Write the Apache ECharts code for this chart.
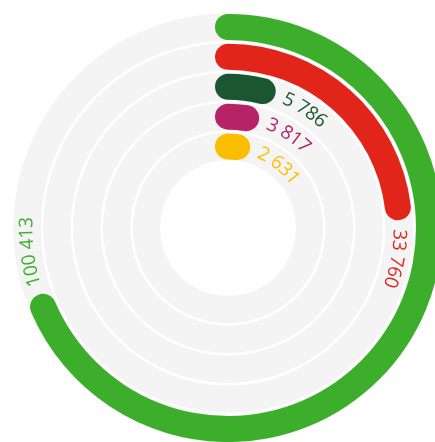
<!DOCTYPE html>
<html>
<head>
<meta charset="utf-8">
<script src="https://cdn.jsdelivr.net/npm/echarts@6/dist/echarts.min.js"></script>
<style>
html,body{margin:0;padding:0;background:#fff;}
#chart{width:435px;height:442px;}
</style>
</head>
<body>
<div id="chart"></div>
<script>
const categories = ['Cat 1', 'Cat 2', 'Cat 3', 'Cat 4', 'Cat 5'];
const values = [100413, 33760, 5786, 3817, 2631];
const colors = ['#3dae2b', '#e1251b', '#1b5632', '#b82367', '#fbbd00'];
const angleMax = 146407;

const FONT = '400 19px "Open Sans"';
const BAR_W = 26;
const GAP = 9;

const mctx = document.createElement('canvas').getContext('2d');
mctx.font = FONT;

function fmt(v) {
  return String(v).replace(/\B(?=(\d{3})+(?!\d))/g, ' ');
}

const chart = echarts.init(document.getElementById('chart'), null, {renderer: 'canvas'});

const polarGeom = { center: [228, 228], radius: [66.5, 216] };
const hiddenAxis = { axisLine: { show: false }, axisTick: { show: false, interval: 0 }, axisLabel: { show: false, interval: 0 } };

chart.setOption({
  animation: false,
  polar: [Object.assign({}, polarGeom), Object.assign({}, polarGeom)],
  angleAxis: [
    { polarIndex: 0, type: 'value', min: 0, max: angleMax, startAngle: 90, clockwise: true, show: false },
    { polarIndex: 1, type: 'value', min: 0, max: angleMax, startAngle: 90, clockwise: true, show: false }
  ],
  radiusAxis: [
    Object.assign({
      polarIndex: 0, type: 'category', data: categories, inverse: true, show: true, z: 0,
      splitLine: { show: false },
      splitArea: { show: true, interval: 0, areaStyle: { color: ['#f4f4f4'] } }
    }, hiddenAxis),
    Object.assign({
      polarIndex: 1, type: 'category', data: categories, inverse: true, show: true, z: 1,
      splitLine: { show: true, interval: 0, lineStyle: { color: '#ffffff', width: 2.5 } },
      splitArea: { show: false }
    }, hiddenAxis)
  ],
  series: [
    {
      type: 'bar',
      coordinateSystem: 'polar',
      polarIndex: 1,
      roundCap: true,
      barWidth: BAR_W,
      data: values.map((v, i) => ({ value: v, itemStyle: { color: colors[i] } })),
      z: 2
    },
    {
      type: 'custom',
      coordinateSystem: 'polar',
      polarIndex: 1,
      data: values.map((v, i) => [i, v]),
      z: 3,
      renderItem: function (params, api) {
        const idx = params.dataIndex;
        const cs = params.coordSys;
        const pt = api.coord([api.value(0), api.value(1)]);
        const dx = pt[0] - cs.cx, dy = pt[1] - cs.cy;
        const r = Math.sqrt(dx * dx + dy * dy);
        const theta = Math.atan2(dx, -dy);
        let s = BAR_W / 2 + GAP;
        const text = fmt(values[idx]);
        const children = [];
        for (const ch of text) {
          const w = mctx.measureText(ch).width;
          const a = theta + (s + w / 2) / r;
          s += w;
          if (ch === ' ') continue;
          children.push({
            type: 'text',
            x: cs.cx + r * Math.sin(a),
            y: cs.cy - r * Math.cos(a),
            rotation: -a,
            style: {
              text: ch, fill: colors[idx], font: FONT,
              align: 'center', verticalAlign: 'middle',
              textAlign: 'center', textVerticalAlign: 'middle'
            }
          });
        }
        return { type: 'group', children: children };
      }
    }
  ]
});
</script>
</body>
</html>
